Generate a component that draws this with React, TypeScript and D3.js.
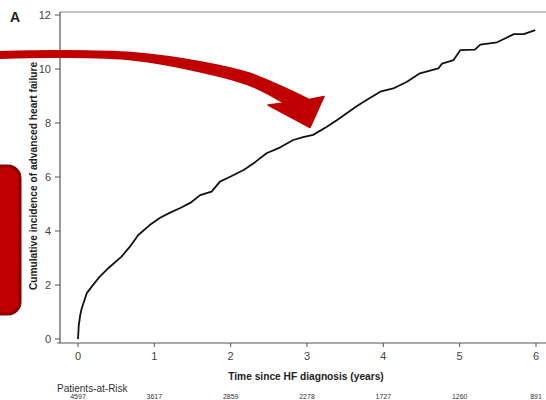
import React from "react";
import * as d3 from "d3";

const times = [0, 0.01, 0.03, 0.05, 0.08, 0.115, 0.18, 0.27, 0.4, 0.57, 0.68, 0.79, 0.94, 1.07, 1.2, 1.34, 1.47, 1.6, 1.75, 1.86, 2.0, 2.17, 2.32, 2.47, 2.65, 2.82, 2.95, 3.08, 3.26, 3.4, 3.52, 3.65, 3.78, 3.96, 4.13, 4.31, 4.48, 4.72, 4.77, 4.92, 5.01, 5.2, 5.27, 5.49, 5.6, 5.71, 5.84, 5.99];
const incidence = [0, 0.5, 0.9, 1.15, 1.4, 1.7, 1.94, 2.26, 2.63, 3.05, 3.42, 3.85, 4.22, 4.48, 4.67, 4.85, 5.04, 5.33, 5.46, 5.83, 6.02, 6.26, 6.55, 6.88, 7.1, 7.37, 7.48, 7.56, 7.86, 8.12, 8.36, 8.62, 8.85, 9.16, 9.28, 9.53, 9.84, 10.02, 10.2, 10.33, 10.7, 10.72, 10.9, 10.99, 11.14, 11.29, 11.29, 11.44];
const xTicks = [0, 1, 2, 3, 4, 5, 6];
const yTicks = [0, 2, 4, 6, 8, 10, 12];
const atRisk = [4597, 3617, 2859, 2278, 1727, 1260, 891];

export default function App() {
  const W = 546, H = 400;
  const x = d3.scaleLinear().domain([0, 6]).range([78, 536]);
  const y = d3.scaleLinear().domain([0, 12]).range([339, 15]);
  const pts = times.map((t, i) => [t, incidence[i]] as [number, number]);
  const line = d3.line<[number, number]>().x(d => x(d[0])).y(d => y(d[1])).curve(d3.curveLinear);
  const axisCol = "#555";
  const font = "Liberation Sans, Arial, sans-serif";

  // decorative arrow outline (overlay, not data)
  const topEdge: [number, number][] = [[-5, 51.8], [60, 50.7], [133, 52.7], [200, 61.7], [250, 73.3], [285, 88], [309, 99.5]];
  const botEdge: [number, number][] = [[284, 103], [250, 85.5], [200, 71.7], [133, 60], [60, 57.3], [-5, 58.5]];
  const edge = d3.line<[number, number]>().curve(d3.curveCatmullRom);
  const topD = edge(topEdge) || "";
  const botD = (edge(botEdge) || "").replace(/^M/, "L");
  const arrowD = `${topD} L324,96.5 L310,127.5 L268,105 ${botD} Z`;

  return (
    <svg width={W} height={H} style={{ position: "absolute", left: 0, top: 0, background: "#fff" }} fontFamily={font}>
      <rect width={W} height={H} fill="#fff" />
      <line x1={60} x2={560} y1={12} y2={12} stroke="#888" strokeWidth={1} />
      <line x1={60} x2={60} y1={12} y2={343} stroke={axisCol} strokeWidth={1.2} />
      <line x1={57} x2={560} y1={343} y2={343} stroke={axisCol} strokeWidth={1.2} />
      {yTicks.map(t => (
        <g key={t}>
          <line x1={55} x2={60} y1={y(t)} y2={y(t)} stroke={axisCol} strokeWidth={1} />
          <text x={51} y={y(t)} dy="0.35em" textAnchor="end" fontSize={11} fill="#444">{t}</text>
        </g>
      ))}
      {xTicks.map(t => (
        <g key={t}>
          <line x1={x(t)} x2={x(t)} y1={343} y2={347} stroke={axisCol} strokeWidth={1} />
          <text x={x(t)} y={356} dy="0.35em" textAnchor="middle" fontSize={11} fill="#444">{t}</text>
        </g>
      ))}
      <text x={306} y={376} dy="0.35em" textAnchor="middle" fontSize={10.2} fontWeight="bold" fill="#222">Time since HF diagnosis (years)</text>
      <text transform="translate(33,176) rotate(-90)" textAnchor="middle" dy="0.35em" fontSize={10.2} fontWeight="bold" fill="#222">Cumulative incidence of advanced heart failure</text>
      <text x={15} y={17} dy="0.35em" textAnchor="middle" fontSize={14} fontWeight="bold" fill="#222">A</text>
      <text x={57} y={388} dy="0.35em" fontSize={10} fill="#333">Patients-at-Risk</text>
      {atRisk.map((n, i) => (
        <text key={i} x={x(xTicks[i])} y={397} dy="0.35em" textAnchor="middle" fontSize={7} fill="#333">{n}</text>
      ))}
      <path d={line(pts) || ""} fill="none" stroke="#111" strokeWidth={1.8} strokeLinejoin="round" />
      <rect x={-15} y={166} width={35} height={148} rx={12} fill="#c00000" stroke="#8b0000" strokeWidth={3} />
      <path d={arrowD} fill="#c00000" stroke="#c00000" strokeWidth={1.5} strokeLinejoin="round" />
    </svg>
  );
}
